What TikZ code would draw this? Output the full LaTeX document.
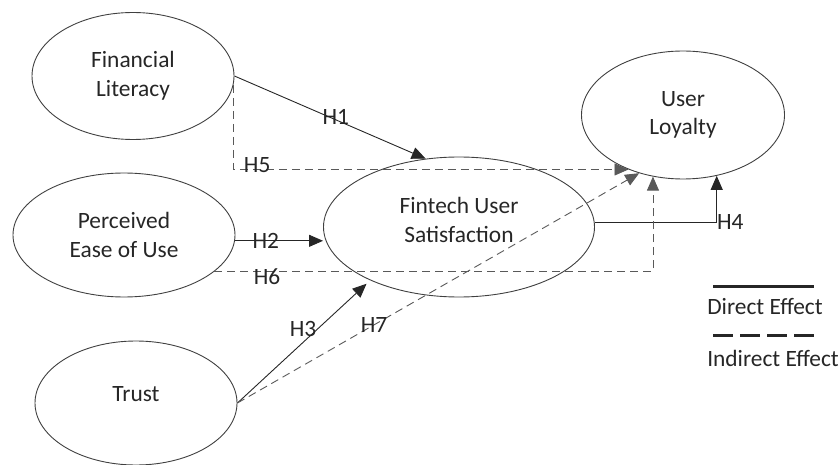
\documentclass[tikz,border=0pt]{standalone}
\usepackage{fontspec}
\setmainfont{Carlito}
\usetikzlibrary{arrows.meta,shapes.geometric}

\tikzset{
    factor/.style={ellipse, draw=black!75, line width=0.9pt, inner sep=0pt, align=center, text=black!85},
    direct/.style={draw=black!85, line width=0.9pt, -{Triangle[length=14pt,width=12pt]}},
    indirect/.style={direct, draw=black!65, dash pattern=on 8pt off 5pt},
    hlab/.style={inner sep=0pt, text=black!85},
    legline/.style={draw=black!85, line width=3pt}
}

\begin{document}
\begin{tikzpicture}[x=1pt, y=-1pt, font=\fontsize{23.4}{28.5}\selectfont]
                \useasboundingbox (0, 0) rectangle (840, 465);
                % Constructs
                \node [factor, minimum width=202pt, minimum height=127pt] (fl) at (133, 76) {Financial\\Literacy};
                \node [factor, minimum width=222pt, minimum height=124pt] (pe) at (124, 235) {Perceived\\Ease of Use};
                \node [factor, minimum width=202pt, minimum height=124pt, text depth=18pt] (tr) at (136, 403) {Trust};
                \node [factor, minimum width=271pt, minimum height=140pt, text depth=14pt] (fs) at (459, 227) {Fintech User\\Satisfaction};
                \node [factor, minimum width=203pt, minimum height=128pt] (ul) at (683, 115) {User\\Loyalty};
                % Direct
                \draw [direct] (fl.east) -- node [hlab, pos=0.53, yshift=3pt] {H1} (fs.116);
                \draw [direct] (pe.-3) -- node [hlab, pos=0.35] {H2} (pe.-3 -| fs.west);
                \draw [direct, shorten >=5pt] (tr.east) -- node [hlab, pos=0.6, xshift=-14pt] {H3} (fs.-149);
                \draw [direct] (fs.2) -| node [hlab, pos=0.5, anchor=west] {H4} (ul.-61);
                % Indirect
                \draw [indirect] (fl.-5) |- node [hlab, pos=0.53, yshift=4pt] {H5} (ul.-135);
                \draw [indirect] (pe.-22) -| node [hlab, pos=0.06, yshift=-5pt] {H6} (ul.-116);
                \draw [indirect] (tr.east) -- node [hlab, pos=0.34] {H7} (ul.-127);
                % Legend
                \coordinate (dir1) at (713, 286);
                \coordinate (dir2) at (814, 286);
                \draw [legline] (dir1) -- (dir2);
                \node [hlab] (dirlab) at (765, 307) {Direct Effect};
                \coordinate (ind1) at (713, 335);
                \coordinate (ind2) at (814, 335);
                \draw [legline, dash pattern=on 20pt off 7pt] (ind1) -- (ind2);
                \node [hlab] (indlab) at (773, 358) {Indirect Effect};
            \end{tikzpicture}
\end{document}
